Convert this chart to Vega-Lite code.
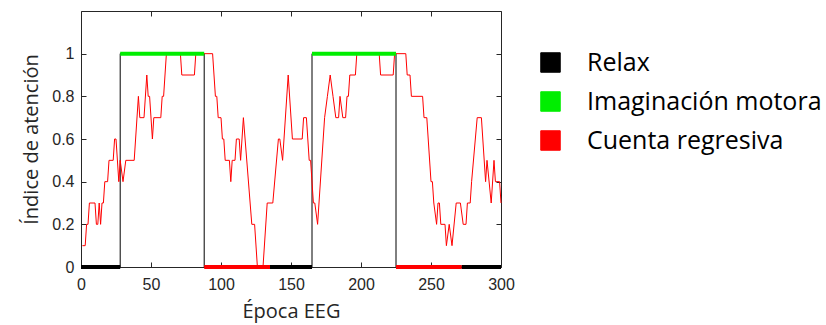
{
  "$schema": "https://vega.github.io/schema/vega-lite/v6.json",
  "width": 420,
  "height": 256,
  "autosize": "none",
  "padding": {"left": 81, "top": 11, "right": 325, "bottom": 58},
  "background": "white",
  "config": {
    "view": {"stroke": "#262626", "strokeWidth": 1},
    "axis": {"grid": false, "domain": false, "labelFont": "Liberation Sans", "labelFontSize": 16, "labelColor": "#262626", "tickColor": "#262626", "titleFont": "Open Sans", "titleFontWeight": "normal", "titleFontSize": 20, "titleColor": "#262626", "labelFlush": false}
  },
  "datasets": {
    "att": [
      {"epoch": 1, "v": 0.1}, {"epoch": 3, "v": 0.1}, {"epoch": 4, "v": 0.2}, {"epoch": 5, "v": 0.2}, {"epoch": 6, "v": 0.3}, {"epoch": 10, "v": 0.3}, {"epoch": 11, "v": 0.2}, {"epoch": 12, "v": 0.2}, {"epoch": 13, "v": 0.3}, {"epoch": 14, "v": 0.2}, {"epoch": 15, "v": 0.3}, {"epoch": 16, "v": 0.3}, {"epoch": 17, "v": 0.4}, {"epoch": 19, "v": 0.4}, {"epoch": 20, "v": 0.5}, {"epoch": 23, "v": 0.5}, {"epoch": 24, "v": 0.6}, {"epoch": 25, "v": 0.6}, {"epoch": 27, "v": 0.4}, {"epoch": 28, "v": 0.5}, {"epoch": 30, "v": 0.4}, {"epoch": 32, "v": 0.5}, {"epoch": 38, "v": 0.5}, {"epoch": 41, "v": 0.8}, {"epoch": 42, "v": 0.7}, {"epoch": 45, "v": 0.7}, {"epoch": 47, "v": 0.9}, {"epoch": 48, "v": 0.8}, {"epoch": 49, "v": 0.8}, {"epoch": 51, "v": 0.6}, {"epoch": 52, "v": 0.7}, {"epoch": 57, "v": 0.7}, {"epoch": 58, "v": 0.8}, {"epoch": 59, "v": 0.8}, {"epoch": 61, "v": 1.0}, {"epoch": 71, "v": 1.0}, {"epoch": 72, "v": 0.9}, {"epoch": 81, "v": 0.9}, {"epoch": 82, "v": 1.0}, {"epoch": 94, "v": 1.0}, {"epoch": 96, "v": 0.8}, {"epoch": 97, "v": 0.8}, {"epoch": 98, "v": 0.7}, {"epoch": 100, "v": 0.7}, {"epoch": 101, "v": 0.6}, {"epoch": 102, "v": 0.6}, {"epoch": 103, "v": 0.5}, {"epoch": 106, "v": 0.5}, {"epoch": 107, "v": 0.4}, {"epoch": 108, "v": 0.5}, {"epoch": 110, "v": 0.5}, {"epoch": 111, "v": 0.6}, {"epoch": 113, "v": 0.6}, {"epoch": 114, "v": 0.5}, {"epoch": 116, "v": 0.7}, {"epoch": 122, "v": 0.2}, {"epoch": 124, "v": 0.2}, {"epoch": 126, "v": 0.0}, {"epoch": 130, "v": 0.0}, {"epoch": 133, "v": 0.3}, {"epoch": 137, "v": 0.3}, {"epoch": 141, "v": 0.6}, {"epoch": 142, "v": 0.6}, {"epoch": 144, "v": 0.5}, {"epoch": 148, "v": 0.9}, {"epoch": 151, "v": 0.6}, {"epoch": 158, "v": 0.6}, {"epoch": 159, "v": 0.7}, {"epoch": 161, "v": 0.7}, {"epoch": 163, "v": 0.5}, {"epoch": 164, "v": 0.5}, {"epoch": 166, "v": 0.3}, {"epoch": 167, "v": 0.3}, {"epoch": 169, "v": 0.2}, {"epoch": 174, "v": 0.7}, {"epoch": 176, "v": 0.8}, {"epoch": 178, "v": 0.9}, {"epoch": 180, "v": 0.8}, {"epoch": 182, "v": 0.7}, {"epoch": 184, "v": 0.7}, {"epoch": 185, "v": 0.8}, {"epoch": 187, "v": 0.7}, {"epoch": 189, "v": 0.7}, {"epoch": 190, "v": 0.8}, {"epoch": 191, "v": 0.8}, {"epoch": 192, "v": 0.9}, {"epoch": 196, "v": 0.9}, {"epoch": 197, "v": 1.0}, {"epoch": 213, "v": 1.0}, {"epoch": 214, "v": 0.9}, {"epoch": 223, "v": 0.9}, {"epoch": 224, "v": 1.0}, {"epoch": 232, "v": 1.0}, {"epoch": 233, "v": 0.9}, {"epoch": 235, "v": 0.9}, {"epoch": 236, "v": 0.8}, {"epoch": 244, "v": 0.8}, {"epoch": 245, "v": 0.7}, {"epoch": 247, "v": 0.7}, {"epoch": 250, "v": 0.4}, {"epoch": 251, "v": 0.4}, {"epoch": 252, "v": 0.3}, {"epoch": 254, "v": 0.2}, {"epoch": 255, "v": 0.3}, {"epoch": 256, "v": 0.3}, {"epoch": 257, "v": 0.2}, {"epoch": 260, "v": 0.2}, {"epoch": 261, "v": 0.1}, {"epoch": 263, "v": 0.2}, {"epoch": 265, "v": 0.1}, {"epoch": 268, "v": 0.3}, {"epoch": 271, "v": 0.3}, {"epoch": 273, "v": 0.2}, {"epoch": 275, "v": 0.2}, {"epoch": 276, "v": 0.3}, {"epoch": 278, "v": 0.3}, {"epoch": 279, "v": 0.4}, {"epoch": 283, "v": 0.7}, {"epoch": 286, "v": 0.7}, {"epoch": 289, "v": 0.4}, {"epoch": 290, "v": 0.5}, {"epoch": 293, "v": 0.3}, {"epoch": 295, "v": 0.5}, {"epoch": 296, "v": 0.4}, {"epoch": 299, "v": 0.4}, {"epoch": 300, "v": 0.3}
    ],
    "stim": [
      {"epoch": 0, "v": 0}, {"epoch": 28, "v": 1}, {"epoch": 88, "v": 0}, {"epoch": 165, "v": 1}, {"epoch": 225, "v": 0}, {"epoch": 300, "v": 0}
    ],
    "segs": [
      {"start": 0, "end": 28, "level": 0, "phase": "Relax"},
      {"start": 28, "end": 88, "level": 1, "phase": "Imaginación motora"},
      {"start": 88, "end": 135, "level": 0, "phase": "Cuenta regresiva"},
      {"start": 135, "end": 165, "level": 0, "phase": "Relax"},
      {"start": 165, "end": 225, "level": 1, "phase": "Imaginación motora"},
      {"start": 225, "end": 272, "level": 0, "phase": "Cuenta regresiva"},
      {"start": 272, "end": 300, "level": 0, "phase": "Relax"}
    ]
  },
  "resolve": {"axis": {"x": "independent", "y": "independent"}},
  "layer": [
    {
      "data": {"name": "stim"},
      "mark": {"type": "line", "interpolate": "step-after", "color": "#000000", "strokeWidth": 1},
      "encoding": {
        "x": {"field": "epoch", "type": "quantitative", "scale": {"domain": [0, 300], "nice": false, "zero": false}, "axis": {"orient": "top", "labels": false, "title": null, "values": [0, 50, 100, 150, 200, 250, 300], "tickSize": -5}},
        "y": {"field": "v", "type": "quantitative", "scale": {"domain": [0, 1.2], "nice": false}, "axis": {"orient": "right", "labels": false, "title": null, "values": [0, 0.2, 0.4, 0.6, 0.8, 1], "tickSize": -5}}
      }
    },
    {
      "data": {"name": "att"},
      "mark": {"type": "line", "color": "#ff0000", "strokeWidth": 1},
      "encoding": {
        "x": {"field": "epoch", "type": "quantitative", "axis": {"orient": "bottom", "title": "Época EEG", "values": [0, 50, 100, 150, 200, 250, 300], "tickSize": -5, "labelPadding": 14, "titlePadding": 9}},
        "y": {"field": "v", "type": "quantitative", "axis": {"orient": "left", "title": "Índice de atención", "format": "~g", "values": [0, 0.2, 0.4, 0.6, 0.8, 1], "tickSize": -5, "labelPadding": 12, "titlePadding": 10}}
      }
    },
    {
      "data": {"name": "segs"},
      "mark": {"type": "rule", "strokeWidth": 4},
      "encoding": {
        "x": {"field": "start", "type": "quantitative", "axis": null},
        "x2": {"field": "end"},
        "y": {"field": "level", "type": "quantitative", "axis": null},
        "color": {
          "field": "phase", "type": "nominal",
          "scale": {"domain": ["Relax", "Imaginación motora", "Cuenta regresiva"], "range": ["#000000", "#00ee00", "#ff0000"]},
          "legend": {
            "orient": "none", "legendX": 457, "legendY": 39, "title": null,
            "symbolType": "square", "symbolSize": 380, "symbolStrokeWidth": 1,
            "labelFont": "Open Sans", "labelFontSize": 25, "labelColor": "#000000", "labelOffset": 24, "labelLimit": 400, "rowPadding": 13,
            "encode": {"symbols": {"update": {"fill": {"scale": "color", "field": "value"}, "fillOpacity": {"value": 1}, "stroke": {"value": "#000000"}, "strokeWidth": {"value": 1}}}}
          }
        }
      }
    }
  ]
}
